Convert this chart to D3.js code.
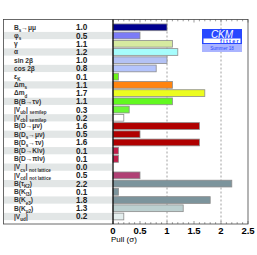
<!DOCTYPE html>
<html>
<head>
<meta charset="utf-8">
<script src="https://cdn.jsdelivr.net/npm/d3@7"></script>
<style>
  body { margin: 0; background: white; }
  text { font-family: "Liberation Sans", Arial, sans-serif; }
</style>
</head>
<body>
<div id="chart"></div>
<script>
// observables, top to bottom; "_{..}" marks a subscript
const labels = [
  "B_{s}→μμ", "φ_{s}", "γ", "α", "sin 2β", "cos 2β", "ε_{K}", "Δm_{s}", "Δm_{d}",
  "B(B→τν)", "|V_{ub}| _{semilep}", "|V_{cb}| _{semilep}", "B(D→μν)", "B(D_{s}→μν)",
  "B(D_{s}→τν)", "B(D→Klν)", "B(D→πlν)", "|V_{cs}| _{not lattice}", "|V_{cd}| _{not lattice}",
  "B(τ_{K2})", "B(K_{l3})", "B(K_{e3})", "B(K_{μ2})", "|V_{ud}|"
];
const pulls = [1.0, 0.5, 1.1, 1.2, 1.0, 0.8, 0.1, 1.1, 1.7, 1.1, 0.3, 0.2, 1.6, 0.5,
  1.6, 0.1, 0.1, 0.0, 0.5, 2.2, 0.1, 1.8, 1.3, 0.2];
const barColors = [
  "#000090", "#7b7bf6", "#d6eaa0", "#a6fcfc", "#b4c2f4", "#b4c4fc", "#6cf418", "#ff8410",
  "#ecfc20", "#62f820", "#6cf838", "#ffffff", "#b00000", "#b00000", "#b00000", "#c01c48",
  "#c01c48", "#c01c48", "#b04074", "#7c949c", "#7c949c", "#7c949c", "#bcd0d0", "#e4eeee"
];
const xTicks = [0, 0.5, 1, 1.5, 2, 2.5];

const W = 257, H = 255;
const frame = {left: 3.5, right: 248, top: 19.5, bottom: 224};

const svg = d3.select("#chart").append("svg")
  .attr("width", W).attr("height", H);

const x = d3.scaleLinear().domain([0, 2.5]).range([113, frame.right]);
const y = d3.scaleBand().domain(d3.range(labels.length))
  .range([23.2, 220.6]).paddingInner(0.18).paddingOuter(0.09);
const step = y.step();

// shaded label rows
svg.append("g").selectAll("rect")
  .data(labels.map((d, i) => i).filter(i => i % 2 === 1))
  .join("rect")
  .attr("x", frame.left + 0.5)
  .attr("y", i => y(i) - step * 0.09 + 0.5)
  .attr("width", x(0) - frame.left - 1)
  .attr("height", step - 1)
  .attr("fill", "#e2e6e6");

// dashed reference lines
svg.append("g").selectAll("line")
  .data([1, 2])
  .join("line")
  .attr("x1", d => x(d)).attr("x2", d => x(d))
  .attr("y1", frame.top).attr("y2", frame.bottom)
  .attr("stroke", "#888")
  .attr("stroke-width", 0.8)
  .attr("stroke-dasharray", "2,2");

// bars
svg.append("g").selectAll("rect")
  .data(pulls)
  .join("rect")
  .attr("x", x(0))
  .attr("y", (d, i) => y(i))
  .attr("width", d => x(d) - x(0))
  .attr("height", y.bandwidth())
  .attr("fill", (d, i) => barColors[i])
  .attr("stroke", d => d > 0 ? "#8c8c8c" : "none")
  .attr("stroke-width", 0.8);

// labels with subscripts
const labelG = svg.append("g");
labels.forEach((lab, i) => {
  const t = labelG.append("text")
    .attr("x", 14)
    .attr("y", y(i) + y.bandwidth() / 2 + 2.3)
    .attr("font-size", 6.6)
    .attr("font-weight", "bold")
    .attr("fill", "#333");
  let shifted = false;
  lab.split(/(_\{[^}]*\})/).filter(s => s.length).forEach(s => {
    if (s.startsWith("_{")) {
      t.append("tspan").text(s.slice(2, -1))
        .attr("font-size", 4.6)
        .attr("dy", shifted ? 0 : 2.2);
      shifted = true;
    } else {
      t.append("tspan").text(s).attr("dy", shifted ? -2.2 : 0);
      shifted = false;
    }
  });
});

// values
svg.append("g").selectAll("text")
  .data(pulls)
  .join("text")
  .attr("x", 76)
  .attr("y", (d, i) => y(i) + y.bandwidth() / 2 + 3)
  .attr("font-size", 8.2)
  .attr("font-weight", "bold")
  .attr("fill", "#222")
  .text(d => d.toFixed(1));

// ticks on top and bottom
const minor = d3.range(0, 2.51, 0.1);
const tickG = svg.append("g").attr("stroke", "#555").attr("stroke-width", 0.6);
minor.forEach(v => {
  const major = Math.abs(v * 2 - Math.round(v * 2)) < 1e-6;
  const len = major ? 3 : 1.8;
  tickG.append("line").attr("x1", x(v)).attr("x2", x(v))
    .attr("y1", frame.top).attr("y2", frame.top + len);
  tickG.append("line").attr("x1", x(v)).attr("x2", x(v))
    .attr("y1", frame.bottom).attr("y2", frame.bottom - len);
});

// frame
svg.append("rect")
  .attr("x", frame.left).attr("y", frame.top)
  .attr("width", frame.right - frame.left)
  .attr("height", frame.bottom - frame.top)
  .attr("fill", "none")
  .attr("stroke", "#444")
  .attr("stroke-width", 0.8);

// zero axis
svg.append("line")
  .attr("x1", x(0)).attr("x2", x(0))
  .attr("y1", frame.top).attr("y2", frame.bottom)
  .attr("stroke", "black").attr("stroke-width", 1.2);

// x tick labels
svg.append("g").selectAll("text")
  .data(xTicks)
  .join("text")
  .attr("x", d => x(d))
  .attr("y", 234)
  .attr("text-anchor", "middle")
  .attr("font-size", 9.5)
  .attr("font-weight", "bold")
  .text(d => d);

svg.append("text")
  .attr("x", 111).attr("y", 241.5)
  .attr("font-size", 8)
  .text("Pull (σ)");

// CKMfitter logo
const logo = svg.append("g");
logo.append("rect").attr("x", 202).attr("y", 29).attr("width", 40).attr("height", 23)
  .attr("fill", "#aab4ff");
logo.append("rect").attr("x", 202).attr("y", 29).attr("width", 40).attr("height", 15)
  .attr("fill", "#2848ff");
logo.append("rect").attr("x", 203.5).attr("y", 38.5).attr("width", 37).attr("height", 4.5)
  .attr("fill", "white");
logo.append("text").attr("x", 222).attr("y", 37.5)
  .attr("text-anchor", "middle").attr("font-size", 10)
  .attr("font-style", "italic").attr("fill", "white").text("CKM");
logo.append("text").attr("x", 240).attr("y", 43)
  .attr("text-anchor", "end").attr("font-size", 5.5).attr("font-weight", "bold")
  .attr("letter-spacing", 1.3).attr("fill", "#2848ff").text("fitter");
logo.append("text").attr("x", 222).attr("y", 50.3)
  .attr("text-anchor", "middle").attr("font-size", 4.6)
  .attr("fill", "#2848ff").text("Summer 18");
</script>
</body>
</html>
